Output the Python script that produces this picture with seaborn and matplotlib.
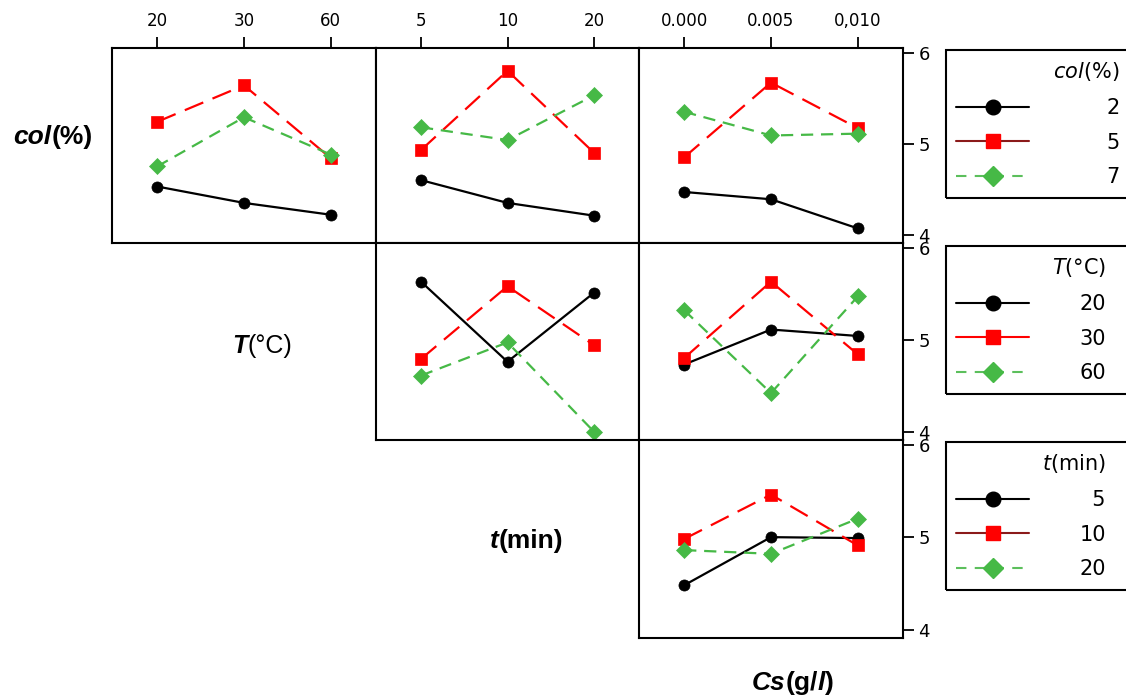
import numpy as np
import pandas as pd
import matplotlib
matplotlib.use("Agg")
import matplotlib.pyplot as plt
import seaborn as sns
from matplotlib.lines import Line2D
from matplotlib.patches import Rectangle
from matplotlib.transforms import IdentityTransform
from matplotlib.offsetbox import TextArea, HPacker, AnnotationBbox

# ---------------- data ----------------
col_levels = ["2", "5", "7"]
T_levels = ["20", "30", "60"]
t_levels = ["5", "10", "20"]
Cs_levels = ["0.000", "0.005", "0,010"]

# mean response; rows = trace levels, columns = x-axis levels
col_by_T = [[4.53, 4.35, 4.22], [5.24, 5.64, 4.84], [4.75, 5.29, 4.88]]
col_by_t = [[4.60, 4.35, 4.21], [4.93, 5.80, 4.90], [5.18, 5.04, 5.53]]
col_by_Cs = [[4.47, 4.39, 4.07], [4.85, 5.67, 5.17], [5.35, 5.09, 5.11]]
T_by_t = [[5.63, 4.76, 5.51], [4.79, 5.58, 4.94], [4.61, 4.97, 4.00]]
T_by_Cs = [[4.73, 5.11, 5.04], [4.80, 5.63, 4.84], [5.32, 4.42, 5.47]]
t_by_Cs = [[4.48, 5.00, 4.99], [4.98, 5.46, 4.91], [4.86, 4.82, 5.20]]

# ---------------- style ----------------
sns.set_style("white")
plt.rcParams["font.family"] = ["DejaVu Sans"]
plt.rcParams["text.color"] = "black"
plt.rcParams["axes.labelcolor"] = "black"

colors = ["#000000", "#ff0000", "#46b946"]
mk = ["o", "s", "D"]
dash = ["", (9, 4.5), (5.5, 3.5)]
msize = {"o": 8, "s": 8.5, "D": 8.5}

W, H = 1126, 696
fig = plt.figure(figsize=(W / 100, H / 100), dpi=100)

col_x = [(112, 376), (376, 639), (639, 903)]
row_y = [(48, 243), (243, 440), (440, 638)]


def add_ax(r, c):
    x0, x1 = col_x[c]
    y0, y1 = row_y[r]
    return fig.add_axes([x0 / W, 1 - y1 / H, (x1 - x0) / W, (y1 - y0) / H])


def long_df(values, levels):
    recs = []
    for lvl, ys in zip(levels, values):
        for i, y in enumerate(ys):
            recs.append(dict(pos=i, y=y, level=lvl))
    return pd.DataFrame(recs)


panels = [
    (0, 0, col_by_T, col_levels, T_levels),
    (0, 1, col_by_t, col_levels, t_levels),
    (0, 2, col_by_Cs, col_levels, Cs_levels),
    (1, 1, T_by_t, T_levels, t_levels),
    (1, 2, T_by_Cs, T_levels, Cs_levels),
    (2, 2, t_by_Cs, t_levels, Cs_levels),
]

for r, c, vals, levels, xlevels in panels:
    ax = add_ax(r, c)
    df = long_df(vals, levels)
    sns.lineplot(
        data=df, x="pos", y="y", hue="level", style="level",
        hue_order=levels, style_order=levels,
        palette=dict(zip(levels, colors)),
        markers=dict(zip(levels, mk)),
        dashes=dict(zip(levels, dash)),
        lw=1.6, legend=False, ax=ax,
    )
    for line in ax.lines:
        line.set_markeredgecolor(line.get_color())
        line.set_markerfacecolor(line.get_color())
        line.set_markersize(msize.get(line.get_marker(), 8))
        line.set_markeredgewidth(0.5)
    ax.set_xlim(-0.52, 2.52)
    ax.set_ylim(3.91, 6.05)
    ax.set_xlabel("")
    ax.set_ylabel("")
    for sp in ax.spines.values():
        sp.set_linewidth(1.5)
        sp.set_color("black")
        sp.set_visible(True)
    if r == 0:
        ax.xaxis.tick_top()
        ax.set_xticks([0, 1, 2])
        ax.set_xticklabels(xlevels)
        ax.tick_params(axis="x", direction="out", length=8, width=1.3, pad=5,
                       labelsize=12, top=True, bottom=False, labeltop=True,
                       labelbottom=False, colors="black")
    else:
        ax.set_xticks([])
    if c == 2:
        ax.yaxis.tick_right()
        ax.set_yticks([4, 5, 6])
        ax.tick_params(axis="y", direction="out", length=8, width=1.3, pad=3,
                       labelsize=13, right=True, left=False, labelright=True,
                       labelleft=False, colors="black")
    else:
        ax.set_yticks([])


# ---------------- factor labels ----------------
def mixed_label(x, y, parts, size):
    boxes = [TextArea(txt, textprops=dict(fontsize=size, fontweight=w, fontstyle=s,
                                          family="Liberation Sans", color="black"))
             for txt, w, s in parts]
    pack = HPacker(children=boxes, align="baseline", pad=0, sep=0)
    ab = AnnotationBbox(pack, (x, H - y), xycoords="figure pixels", frameon=False,
                        box_alignment=(0.5, 0.5), pad=0)
    fig.add_artist(ab)


mixed_label(53, 137, [("col", "bold", "italic"), ("(%)", "bold", "normal")], 19)
mixed_label(262, 346, [("T", "bold", "italic"), ("(°C)", "normal", "normal")], 18)
mixed_label(527, 541, [("t", "bold", "italic"), ("(min)", "bold", "normal")], 19)
mixed_label(793, 683, [("Cs", "bold", "italic"), ("(g/", "bold", "normal"),
                       ("l", "bold", "italic"), (")", "bold", "normal")], 19)

# ---------------- legends ----------------
def make_handles(red_color):
    return [
        Line2D([], [], color="black", marker="o", ms=10.5, lw=1.5),
        Line2D([], [], color=red_color, marker="s", ms=10.5, lw=1.5,
               markerfacecolor="#ff0000", markeredgecolor="#ff0000"),
        Line2D([], [], color="#5cbf5c", marker="D", ms=10, lw=1.5, ls=(0, (5, 4)),
               markerfacecolor="#46b946", markeredgecolor="#46b946"),
    ]


legend_specs = [
    (50, "$col$(%)", col_levels, "#8b1a1a", 3.7),
    (246, "$T$(°C)", T_levels, "#ff0000", 2.4),
    (442, "$t$(min)", ["\u20075", "10", "20"], "#8b1a1a", 2.4),
]
legends = []
for top, title, labels, redc, tpad in legend_specs:
    leg = fig.legend(make_handles(redc), labels, title=title, loc="upper left",
                     bbox_to_anchor=(946 / W, 1 - top / H), bbox_transform=fig.transFigure,
                     frameon=True, fancybox=False, edgecolor="black", framealpha=1,
                     fontsize=15, title_fontsize=15, handlelength=3.5,
                     handletextpad=tpad, borderpad=0.5, labelspacing=0.7,
                     borderaxespad=0, alignment="right", labelcolor="black")
    leg.get_title().set_color("black")
    legends.append(leg)

# legend frames run off the right edge of the figure, as in the reference
fig.canvas.draw()
renderer = fig.canvas.get_renderer()
for leg in legends:
    bb = leg.get_window_extent(renderer)
    leg.get_frame().set_visible(False)
    fig.add_artist(Rectangle((bb.x0, bb.y0), W + 20 - bb.x0, bb.height,
                             transform=IdentityTransform(), fill=False,
                             edgecolor="black", linewidth=1.5, clip_on=False))

fig.savefig("out.png", dpi=100)
